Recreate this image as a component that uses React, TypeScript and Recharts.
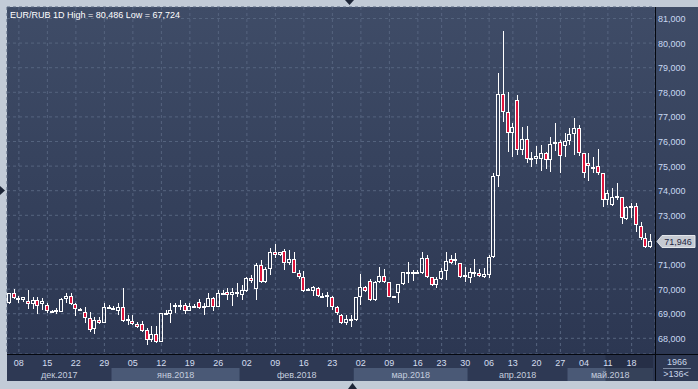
import React from "react";
import {
  ComposedChart,
  Bar,
  XAxis,
  YAxis,
  CartesianGrid,
  ReferenceArea,
  ReferenceLine,
} from "recharts";

// ─── EUR/RUB daily candles, Dec 2017 – May 2018 ─────────────────────────────

const opens = [
  69.42, 69.83, 69.56, 69.56, 69.53, 69.38, 69.56, 69.38, 69.35, 69.1,
  69.06, 69.08, 69.58, 69.72, 69.39, 69.19, 69.08, 68.81, 68.37, 68.74,
  68.64, 69.22, 69.24, 69.12, 69.26, 68.76, 68.72, 68.57, 68.57, 68.34,
  67.93, 68.17, 67.86, 68.99, 68.99, 69.31, 69.35, 69.35, 69.12, 69.31,
  69.49, 69.22, 69.28, 69.62, 69.28, 69.83, 69.87, 69.74, 69.88, 69.76,
  69.94, 70.44, 69.99, 70.98, 70.3, 70.8, 71.49, 71.38, 71.56, 71.05,
  71.21, 70.67, 70.48, 70.0, 69.94, 70.03, 69.73, 69.76, 69.67, 69.26,
  68.95, 68.61, 68.76, 68.74, 69.67, 70.07, 70.34, 69.56, 70.28, 70.55,
  70.28, 69.7, 69.85, 70.21, 70.67, 70.68, 70.67, 70.64, 71.25, 70.48,
  70.17, 70.4, 70.75, 71.21, 71.16, 71.05, 70.48, 70.44, 70.66, 70.67,
  70.51, 70.57, 71.29, 74.6, 77.93, 77.21, 76.33, 77.69, 75.66, 76.09,
  75.3, 75.28, 75.28, 75.52, 75.25, 75.88, 75.97, 75.82, 76.03, 76.3,
  76.54, 75.52, 75.11, 74.98, 75.0, 74.7, 73.62, 73.42, 73.75, 73.73,
  72.84, 73.28, 73.38, 72.57, 72.06, 71.7,
];
const highs = [
  69.86, 69.99, 69.72, 69.69, 69.96, 69.67, 69.69, 69.62, 69.42, 69.14,
  69.22, 69.63, 69.83, 69.83, 69.42, 69.22, 69.29, 69.08, 68.88, 68.85,
  69.45, 69.35, 69.3, 69.42, 70.03, 68.95, 68.95, 68.68, 68.7, 68.41,
  68.5, 68.5, 69.04, 69.15, 69.45, 69.45, 69.56, 69.45, 69.45, 69.4,
  69.58, 69.42, 69.83, 69.69, 69.96, 69.96, 70.03, 70.05, 70.23, 70.17,
  70.48, 70.57, 71.07, 71.18, 70.91, 71.66, 71.83, 71.52, 71.62, 71.59,
  71.52, 70.78, 70.75, 70.03, 70.12, 70.1, 69.83, 69.9, 69.72, 69.31,
  68.99, 68.95, 68.95, 69.67, 70.61, 70.12, 70.4, 70.34, 70.88, 70.8,
  70.3, 69.72, 70.21, 70.71, 71.1, 70.78, 70.78, 71.52, 71.39, 70.51,
  70.51, 70.85, 71.52, 71.39, 71.45, 71.07, 70.91, 70.85, 71.21, 70.8,
  70.84, 71.39, 74.71, 78.77, 80.486, 78.02, 76.74, 77.89, 76.6, 76.63,
  75.59, 75.82, 75.85, 75.59, 76.2, 76.74, 76.06, 76.36, 76.54, 76.94,
  76.67, 75.55, 75.52, 75.38, 75.68, 74.73, 74.03, 74.1, 74.33, 73.76,
  73.38, 73.49, 73.51, 72.74, 72.29, 72.22,
];
const lows = [
  69.4, 69.58, 69.45, 69.49, 69.18, 69.18, 68.99, 69.15, 69.04, 69.08,
  68.99, 69.08, 69.42, 69.35, 68.9, 69.13, 68.61, 68.27, 68.17, 68.58,
  68.61, 69.18, 69.18, 68.95, 68.68, 68.54, 68.54, 68.41, 68.27, 67.724,
  67.86, 67.82, 67.84, 68.95, 68.64, 69.01, 69.15, 68.99, 69.1, 69.22,
  69.18, 68.95, 69.26, 69.12, 69.26, 69.8, 69.56, 69.33, 69.67, 69.56,
  69.9, 70.23, 69.56, 70.26, 70.26, 70.57, 71.25, 71.36, 70.78, 70.98,
  70.64, 70.4, 69.9, 69.96, 69.72, 69.67, 69.62, 69.26, 69.15, 68.95,
  68.57, 68.54, 68.47, 68.72, 69.35, 69.9, 69.53, 69.53, 70.23, 70.23,
  69.67, 69.67, 69.45, 70.17, 70.26, 70.31, 70.64, 70.61, 70.44, 70.12,
  70.03, 70.37, 70.37, 71.02, 70.98, 70.44, 70.3, 70.23, 70.48, 70.49,
  70.44, 70.44, 71.25, 74.14, 76.81, 75.59, 75.38, 75.45, 75.45, 75.14,
  74.98, 75.08, 74.82, 74.9, 74.75, 75.6, 74.71, 75.35, 75.86, 75.45,
  75.41, 74.5, 74.4, 74.73, 74.65, 73.32, 73.42, 73.38, 73.62, 72.65,
  72.79, 72.88, 72.34, 72.0, 71.66, 71.66,
];
const closes = [
  69.83, 69.62, 69.65, 69.66, 69.38, 69.56, 69.31, 69.53, 69.12, 69.12,
  69.15, 69.59, 69.72, 69.39, 69.18, 69.15, 68.81, 68.34, 68.74, 68.61,
  69.26, 69.26, 69.22, 69.26, 68.72, 68.78, 68.58, 68.47, 68.31, 67.93,
  68.17, 67.86, 69.01, 69.04, 69.15, 69.35, 69.36, 69.12, 69.31, 69.32,
  69.22, 69.31, 69.62, 69.28, 69.85, 69.85, 69.76, 69.88, 69.8, 69.96,
  70.44, 70.34, 70.98, 70.3, 70.8, 71.49, 71.38, 71.49, 71.05, 71.21,
  70.67, 70.48, 69.94, 70.02, 70.07, 69.72, 69.72, 69.67, 69.26, 69.01,
  68.61, 68.77, 68.78, 69.67, 70.07, 69.94, 69.56, 70.28, 70.55, 70.28,
  69.69, 69.69, 70.21, 70.71, 70.69, 70.67, 70.68, 71.25, 70.48, 70.17,
  70.4, 70.75, 71.16, 71.05, 71.21, 70.48, 70.57, 70.71, 70.68, 70.52,
  70.61, 71.32, 74.6, 77.93, 77.21, 76.33, 76.58, 75.66, 76.09, 75.28,
  75.32, 75.41, 75.52, 75.25, 75.88, 75.97, 75.4, 76.03, 76.3, 76.54,
  75.52, 74.73, 75.0, 74.96, 74.7, 73.62, 73.89, 73.76, 73.77, 72.88,
  73.32, 73.38, 72.61, 72.06, 71.7, 71.946,
];

// Friday of each week, as bar index
const tickIndex = [2, 8, 14, 20, 26, 32, 38, 44, 50, 56, 62, 68, 74, 80, 86, 91, 96, 101, 106, 111, 116, 121, 126, 131];
const tickLabels = ["08", "15", "22", "29", "05", "12", "19", "26", "02", "09", "16", "23", "02", "09", "16", "23", "30", "06", "13", "20", "27", "04", "11", "18"];

const monthLabels = ["дек.2017", "янв.2018", "фев.2018", "мар.2018", "апр.2018", "май.2018"];
const monthStart = [0, 22, 49, 73, 97, 118];
const monthEnd = [21, 48, 72, 96, 117, 135];

const yTicks = [68, 69, 70, 71, 72, 73, 74, 75, 76, 77, 78, 79, 80, 81];
const yDomain: [number, number] = [67.362, 81.467];

const lastPrice = 71.946;
const totalBars = 1966;
const visibleBars = 136;

const data = opens.map((o, i) => ({ i, open: o, high: highs[i], low: lows[i], close: closes[i] }));

// axis-row heights, in price units below the domain (368px / 381px)
const monthRowTop = 66.793;
const monthRowBottom = 66.265;

const FONT = "'Liberation Sans', Arial, sans-serif";
const BEAR = "#e0143c";

function Candle(props: any) {
  const { x, y, width, height, payload } = props;
  if (!payload) return null;
  const { open, close, high, low } = payload;
  const top = Math.min(y, y + height);
  const bot = Math.max(y, y + height);
  const k = high > low ? (bot - top) / (high - low) : 0;
  const py = (v: number) => top + (high - v) * k;
  const c = Math.floor(x + width / 2);
  const bull = close >= open;
  const bTop = Math.round(py(Math.max(open, close)));
  let bBot = Math.round(py(Math.min(open, close)));
  if (bBot - bTop < 2) bBot = bTop + 2;
  const hi = Math.round(top);
  const lo = Math.round(bot);
  return (
    <g>
      {hi < bTop && <line x1={c + 0.5} x2={c + 0.5} y1={hi} y2={bTop} stroke="#fff" strokeWidth={1} />}
      {lo > bBot && <line x1={c + 0.5} x2={c + 0.5} y1={bBot} y2={lo} stroke="#fff" strokeWidth={1} />}
      <rect
        x={c - 1.5}
        y={bTop + 0.5}
        width={3}
        height={Math.max(bBot - bTop - 1, 0.01)}
        fill={bull ? "none" : BEAR}
        stroke="#fff"
        strokeWidth={1}
      />
    </g>
  );
}

function DateTick({ x, y, payload }: any) {
  const idx = tickIndex.indexOf(payload.value);
  return (
    <text x={x} y={y + 12} textAnchor="middle" fill="#d4def0" fontSize={9} fontFamily={FONT}>
      {tickLabels[idx]}
    </text>
  );
}

// the last-price tag sits over the 72,000 label, so that one is not drawn
function PriceTick({ x, y, payload }: any) {
  if (Math.abs(payload.value - lastPrice) < 0.5) return <g />;
  return (
    <text x={x} y={y + 3.5} textAnchor="start" fill="#c9d9f2" fontSize={9} fontFamily={FONT}>
      {`${payload.value},000`}
    </text>
  );
}

function PriceTag(props: any) {
  const vb = props.viewBox || {};
  const x0 = (vb.x ?? 0) + (vb.width ?? 0) + 2;
  const yc = Math.round(vb.y ?? 0) + 0.5;
  return (
    <g>
      <path
        d={`M${x0},${yc} L${x0 + 5},${yc - 6} L${x0 + 38},${yc - 6} L${x0 + 38},${yc + 6} L${x0 + 5},${yc + 6} Z`}
        fill="#c6cad2"
        stroke="#e4e7ec"
        strokeWidth={1}
      />
      <text x={x0 + 21} y={yc + 3.5} textAnchor="middle" fill="#1c2540" fontSize={9} fontFamily={FONT}>
        {lastPrice.toFixed(3).replace(".", ",")}
      </text>
    </g>
  );
}

const abs = (s: React.CSSProperties): React.CSSProperties => ({ position: "absolute", ...s });

export default function App() {
  return (
    <div style={abs({ left: 0, top: 0, width: 698, height: 389, background: "#c2cbd7", overflow: "hidden" })}>
      {/* panel background */}
      <div style={abs({ left: 7, top: 7, width: 691, height: 347, background: "linear-gradient(#3f4c67, #2c3752)" })} />
      <div style={abs({ left: 7, top: 354, width: 691, height: 27, background: "#2e3954" })} />

      <div style={abs({ left: 0, top: 0 })}>
        <ComposedChart width={698} height={389} data={data} margin={{ top: 7, right: 0, bottom: 0, left: 7 }}>
          <CartesianGrid stroke="#56647f" strokeDasharray="3 3" />
          <XAxis
            dataKey="i"
            type="category"
            ticks={tickIndex}
            interval={0}
            tickLine={false}
            axisLine={false}
            tickSize={0}
            tickMargin={0}
            height={35}
            padding={{ left: 0, right: 2 }}
            tick={<DateTick />}
          />
          <YAxis
            orientation="right"
            domain={yDomain}
            ticks={yTicks}
            allowDataOverflow
            tickLine={false}
            axisLine={false}
            tickSize={0}
            tickMargin={3}
            width={43}
            tick={<PriceTick />}
          />
          {monthLabels.map((m, k) => (
            <ReferenceArea
              key={m}
              x1={monthStart[k]}
              x2={monthEnd[k]}
              y1={monthRowTop}
              y2={monthRowBottom}
              ifOverflow="visible"
              fill={k % 2 === 1 ? "#4a5976" : "#2e3954"}
              fillOpacity={1}
              stroke="none"
              label={{ value: m, position: "center", fill: "#c5cedf", fontSize: 9, fontFamily: FONT }}
            />
          ))}
          <ReferenceArea
            x1={126}
            x2={135}
            y1={yDomain[0]}
            y2={monthRowBottom}
            ifOverflow="visible"
            fill="#1c2438"
            fillOpacity={0.45}
            stroke="none"
          />
          <Bar
            dataKey={(d: any) => [d.low, d.high]}
            shape={<Candle />}
            isAnimationActive={false}
          />
          <ReferenceLine y={lastPrice} stroke="none" ifOverflow="visible" label={<PriceTag />} />
        </ComposedChart>
      </div>

      {/* frame lines */}
      <div style={abs({ left: 655, top: 7, width: 1, height: 374, background: "#05080f" })} />
      <div style={abs({ left: 7, top: 354, width: 691, height: 1, background: "#05080f" })} />

      {/* header */}
      <div style={abs({ left: 10, top: 9, color: "#ffffff", fontSize: 9, lineHeight: "12px", fontFamily: FONT, whiteSpace: "nowrap" })}>
        EUR/RUB 1D High = 80,486 Low = 67,724
      </div>

      {/* bar counter box */}
      <div style={abs({ left: 656, top: 356, width: 42, height: 12, lineHeight: "12px", textAlign: "center", color: "#c8d4e8", fontSize: 9, fontFamily: FONT })}>
        {totalBars}
      </div>
      <div style={abs({ left: 663, top: 368, width: 28, height: 1, background: "#7d8ba3" })} />
      <div style={abs({ left: 656, top: 368, width: 40, height: 12, lineHeight: "12px", textAlign: "center", color: "#c8d4e8", fontSize: 9, fontFamily: FONT })}>
        {`>${visibleBars}<`}
      </div>

      {/* scroll arrows */}
      <svg width={698} height={389} style={abs({ left: 0, top: 0, pointerEvents: "none" })}>
        <path d="M345,0 L354,0 L349.5,5 Z" fill="#1d2537" />
        <path d="M348,389 L357,389 L352.5,383 Z" fill="#1d2537" />
        <path d="M0,186 L0,195 L5,190.5 Z" fill="#1d2537" />
      </svg>
    </div>
  );
}
